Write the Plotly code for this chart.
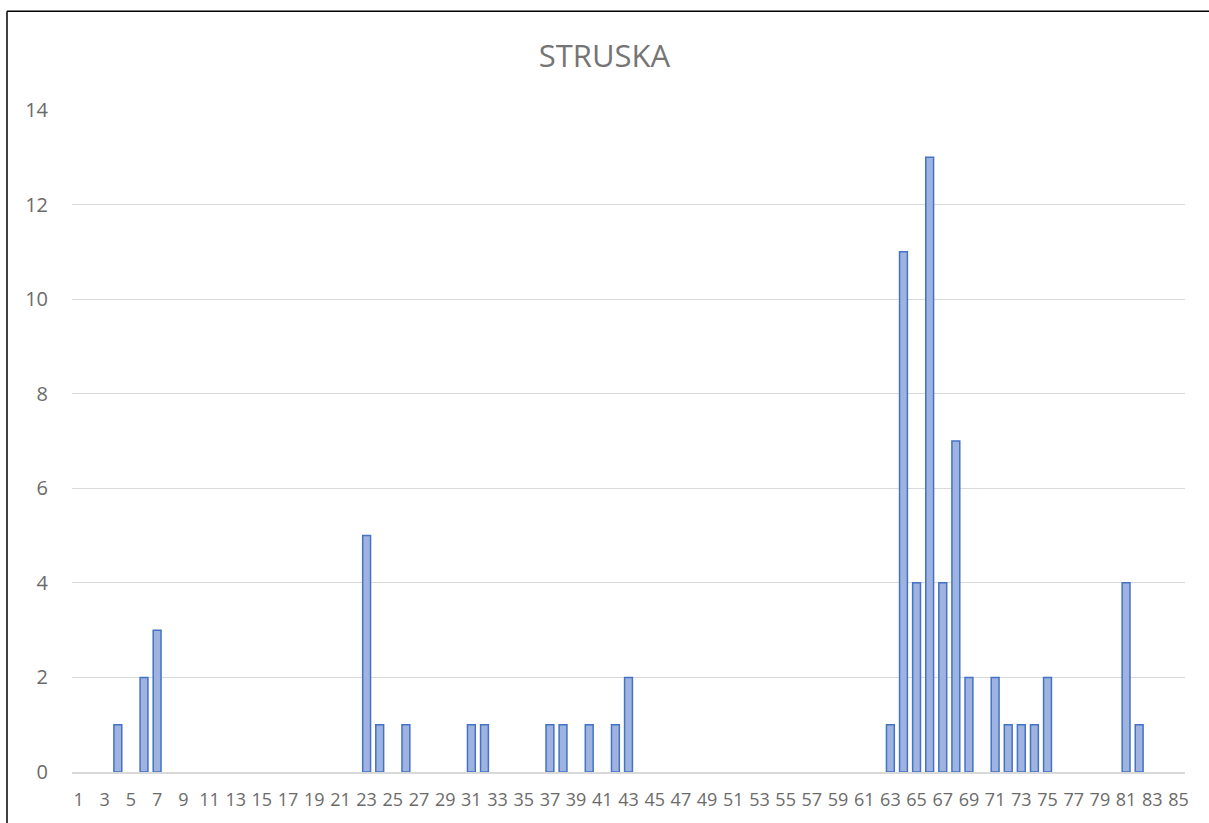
import plotly.graph_objects as go

categories = list(range(1, 86))
nonzero = {4: 1, 6: 2, 7: 3, 23: 5, 24: 1, 26: 1, 31: 1, 32: 1, 37: 1, 38: 1,
           40: 1, 42: 1, 43: 2, 63: 1, 64: 11, 65: 4, 66: 13, 67: 4, 68: 7,
           69: 2, 71: 2, 72: 1, 73: 1, 74: 1, 75: 2, 81: 4, 82: 1}
values = [nonzero.get(c) for c in categories]
tick_labels = [str(c) for c in categories]
odd_ticks = [str(c) for c in categories if c % 2 == 1]

fig = go.Figure()
fig.add_trace(go.Bar(
    x=tick_labels, y=values,
    marker=dict(color="#9FB3E0", line=dict(color="#4472C4", width=1.5)),
    width=0.6,
))

W, H = 1209, 823
l, r, t, b = 72, 24, 110, 49
pw = W - l - r
ph = H - t - b

def px(x):
    return (x - l) / pw

def py(y):
    return (H - b - y) / ph

fig.update_layout(
    width=W, height=H,
    margin=dict(l=l, r=r, t=t, b=b),
    paper_bgcolor="white", plot_bgcolor="white",
    showlegend=False,
    title=dict(text="STRUSKA", x=0.5, xanchor="center", y=1 - 56 / H, yanchor="middle",
               font=dict(family="Open Sans", size=31, color="#757575")),
    xaxis=dict(type="category", categoryorder="array", categoryarray=tick_labels,
               tickmode="array", tickvals=odd_ticks, ticktext=odd_ticks,
               tickfont=dict(family="Open Sans", size=18, color="#6b6b6b"),
               showgrid=False, showline=True, linecolor="#D9D9D9", linewidth=1.5,
               ticks="", tickangle=0, range=[-0.5, 84.5], ticklabelstandoff=11),
    yaxis=dict(range=[0, 14], dtick=2, showgrid=True, gridcolor="#D9D9D9", gridwidth=1.2,
               zeroline=False, showline=False, ticks="", ticklabelstandoff=23,
               tickfont=dict(family="Open Sans", size=20, color="#6b6b6b")),
    bargap=0.4,
)

fig.add_shape(type="line", xref="paper", yref="paper",
              x0=px(7), x1=px(7), y0=py(830), y1=py(11),
              line=dict(color="black", width=1.5))
fig.add_shape(type="line", xref="paper", yref="paper",
              x0=px(7), x1=px(1215), y0=py(11), y1=py(11),
              line=dict(color="black", width=1.5))

fig.write_html("out.html", config={"displayModeBar": False},
               post_script="document.body.style.margin='0';")
